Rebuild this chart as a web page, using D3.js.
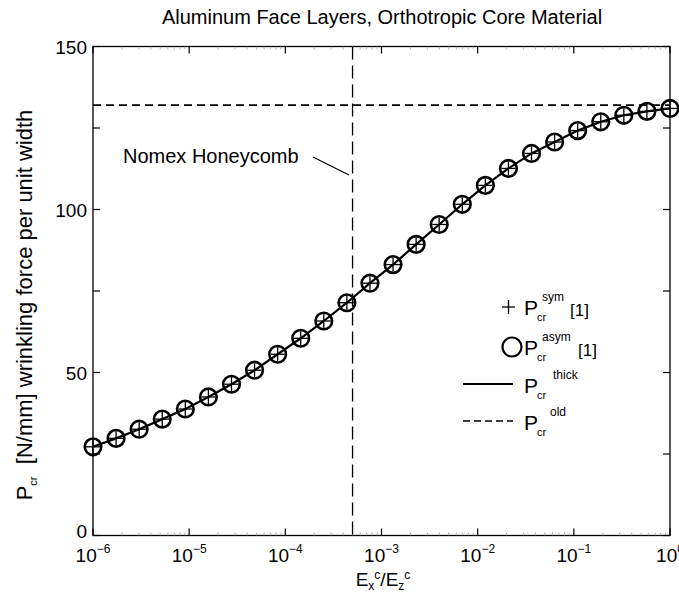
<!DOCTYPE html>
<html><head><meta charset="utf-8">
<script src="https://cdn.jsdelivr.net/npm/d3@7"></script>
<style>
html,body{margin:0;padding:0;background:#fff;}
svg{display:block;font-family:"Liberation Sans",Arial,Helvetica,sans-serif;}
</style></head>
<body>
<svg id="chart" width="679" height="595"></svg>
<script>
// ---- data ----
const xExponents = [-6,-5,-4,-3,-2,-1,0];
const yTickValues = [0,50,100,150];
const yMinorTicks = [25,75,125];
const xLogPositions = [-6,-5.76,-5.52,-5.28,-5.04,-4.8,-4.56,-4.32,-4.08,-3.84,-3.6,-3.36,-3.12,-2.88,-2.64,-2.4,-2.16,-1.92,-1.68,-1.44,-1.2,-0.96,-0.72,-0.48,-0.24,0];
const pThick = [27.2,29.8,32.6,35.7,38.8,42.5,46.4,50.7,55.6,60.5,65.8,71.4,77.4,83.1,89.3,95.4,101.6,107.4,112.6,117.2,120.7,124.2,126.9,128.9,130.1,131.0];
const pSym = [27.2,29.8,32.6,35.7,38.8,42.5,46.4,50.7,55.6,60.5,65.8,71.4,77.4,83.1,89.3,95.4,101.6,107.4,112.6,117.2,120.7,124.2,126.9,128.9,130.1,131.0];
const pAsym = [27.2,29.8,32.6,35.7,38.8,42.5,46.4,50.7,55.6,60.5,65.8,71.4,77.4,83.1,89.3,95.4,101.6,107.4,112.6,117.2,120.7,124.2,126.9,128.9,130.1,131.0];
const pOld = 132.0;
const nomexRatio = 5e-4;
const legendSups = ["sym","asym","thick","old"];

const svg = d3.select("#chart");
const x = d3.scaleLog().domain([1e-6,1]).range([93,670]);
const y = d3.scaleLinear().domain([0,150]).range([535.5,46.5]);
const [x0,x1] = x.range(), [y0,y1] = y.range();

// frame
svg.append("rect").attr("x",x0).attr("y",y1).attr("width",x1-x0).attr("height",y0-y1)
  .attr("fill","none").attr("stroke","#000").attr("stroke-width",1.3);

// ticks
const majorX = xExponents.map(e=>Math.pow(10,e));
const minorX = [];
for (let e=-6;e<0;e++) for (let k=2;k<10;k++) minorX.push(k*Math.pow(10,e));
const tg = svg.append("g").attr("stroke","#000");
majorX.forEach(v=>{
  tg.append("line").attr("x1",x(v)).attr("x2",x(v)).attr("y1",y0).attr("y2",y0-7).attr("stroke-width",1.2);
  tg.append("line").attr("x1",x(v)).attr("x2",x(v)).attr("y1",y1).attr("y2",y1+7).attr("stroke-width",1.2);
});
minorX.forEach(v=>{
  tg.append("line").attr("x1",x(v)).attr("x2",x(v)).attr("y1",y0).attr("y2",y0-3).attr("stroke-width",0.7).attr("stroke","#999");
  tg.append("line").attr("x1",x(v)).attr("x2",x(v)).attr("y1",y1).attr("y2",y1+3).attr("stroke-width",0.7).attr("stroke","#999");
});
yTickValues.concat(yMinorTicks).forEach(v=>{
  tg.append("line").attr("x1",x0).attr("x2",x0+7).attr("y1",y(v)).attr("y2",y(v)).attr("stroke-width",1.2);
  tg.append("line").attr("x1",x1).attr("x2",x1-7).attr("y1",y(v)).attr("y2",y(v)).attr("stroke-width",1.2);
});

// y tick labels
svg.append("g").selectAll("text").data(yTickValues).join("text")
  .attr("x",x0-6).attr("y",d=>y(d)+(d===0?2:7)).attr("text-anchor","end")
  .attr("font-size",19).text(d=>d);

// x tick labels 10^e
const xl = svg.append("g").selectAll("text").data(xExponents).join("text")
  .attr("x",d=>x(Math.pow(10,d))).attr("y",562).attr("text-anchor","middle").attr("font-size",19);
xl.append("tspan").text("10");
xl.append("tspan").attr("dy",-9).attr("font-size",12).text(d=>d===0?"0":"\u2212"+(-d));

// title
svg.append("text").attr("x",382).attr("y",24).attr("text-anchor","middle").attr("font-size",20)
  .text("Aluminum Face Layers, Orthotropic Core Material");

// x label
const xlab = svg.append("text").attr("x",383).attr("y",586).attr("text-anchor","middle").attr("font-size",19);
xlab.append("tspan").text("E");
xlab.append("tspan").attr("dy",4).attr("font-size",12).text("x");
xlab.append("tspan").attr("dy",-11).attr("font-size",12).text("c");
xlab.append("tspan").attr("dy",7).text("/E");
xlab.append("tspan").attr("dy",4).attr("font-size",12).text("z");
xlab.append("tspan").attr("dy",-11).attr("font-size",12).text("c");

// y label
const ylab = svg.append("text").attr("transform","translate(32,305) rotate(-90)")
  .attr("text-anchor","middle").attr("font-size",22);
ylab.append("tspan").text("P");
ylab.append("tspan").attr("dy",5).attr("font-size",11).text("cr");
ylab.append("tspan").attr("dy",-5).text("\u00a0\u00a0[N/mm] wrinkling force per unit width");

// dashed lines
svg.append("line").attr("x1",x0).attr("x2",x1).attr("y1",y(pOld)).attr("y2",y(pOld))
  .attr("stroke","#000").attr("stroke-width",1.8).attr("stroke-dasharray","8,5");
svg.append("line").attr("x1",x(nomexRatio)).attr("x2",x(nomexRatio)).attr("y1",y1).attr("y2",y0)
  .attr("stroke","#000").attr("stroke-width",1.3).attr("stroke-dasharray","13,6");

// annotation
svg.append("text").attr("x",123).attr("y",163).attr("font-size",20).text("Nomex Honeycomb");
svg.append("line").attr("x1",313).attr("y1",157).attr("x2",349).attr("y2",175).attr("stroke","#000").attr("stroke-width",1.2);

// thick curve
const pts = xLogPositions.map((e,i)=>({x:Math.pow(10,e), t:pThick[i], s:pSym[i], a:pAsym[i]}));
svg.append("path").datum(pts).attr("fill","none").attr("stroke","#000").attr("stroke-width",2.2)
  .attr("d",d3.line().x(d=>x(d.x)).y(d=>y(d.t)));

// asym circles
svg.append("g").selectAll("circle").data(pts).join("circle")
  .attr("cx",d=>x(d.x)).attr("cy",d=>y(d.a)).attr("r",8.3)
  .attr("fill","none").attr("stroke","#000").attr("stroke-width",2.6);
// sym plus
const pg = svg.append("g").attr("stroke","#000").attr("stroke-width",1.3);
pts.forEach(d=>{
  const cx=x(d.x), cy=y(d.s);
  pg.append("line").attr("x1",cx-7).attr("x2",cx+7).attr("y1",cy).attr("y2",cy);
  pg.append("line").attr("x1",cx).attr("x2",cx).attr("y1",cy-7).attr("y2",cy+7);
});

// legend
const lg = svg.append("g");
function lab(pBase, sup, supX, extraX){
  lg.append("text").attr("x",524).attr("y",pBase).attr("font-size",21).text("P");
  lg.append("text").attr("x",537).attr("y",pBase+6).attr("font-size",11).text("cr");
  lg.append("text").attr("x",supX).attr("y",pBase-14).attr("font-size",12).text(sup);
  if (extraX) lg.append("text").attr("x",extraX).attr("y",pBase+1).attr("font-size",17).text("[1]");
}
lg.append("line").attr("x1",502).attr("x2",515).attr("y1",307).attr("y2",307).attr("stroke","#000").attr("stroke-width",1.3);
lg.append("line").attr("x1",508.5).attr("x2",508.5).attr("y1",300).attr("y2",314).attr("stroke","#000").attr("stroke-width",1.3);
lab(315, legendSups[0], 542, 570);
lg.append("circle").attr("cx",512).attr("cy",347).attr("r",9.5).attr("fill","none").attr("stroke","#000").attr("stroke-width",2.2);
lab(355, legendSups[1], 542, 578);
lg.append("line").attr("x1",463).attr("x2",513).attr("y1",384).attr("y2",384).attr("stroke","#000").attr("stroke-width",2);
lab(393, legendSups[2], 553);
lg.append("line").attr("x1",463).attr("x2",513).attr("y1",421).attr("y2",421).attr("stroke","#000").attr("stroke-width",1.6).attr("stroke-dasharray","7,4");
lab(430, legendSups[3], 550);
</script>
</body></html>
